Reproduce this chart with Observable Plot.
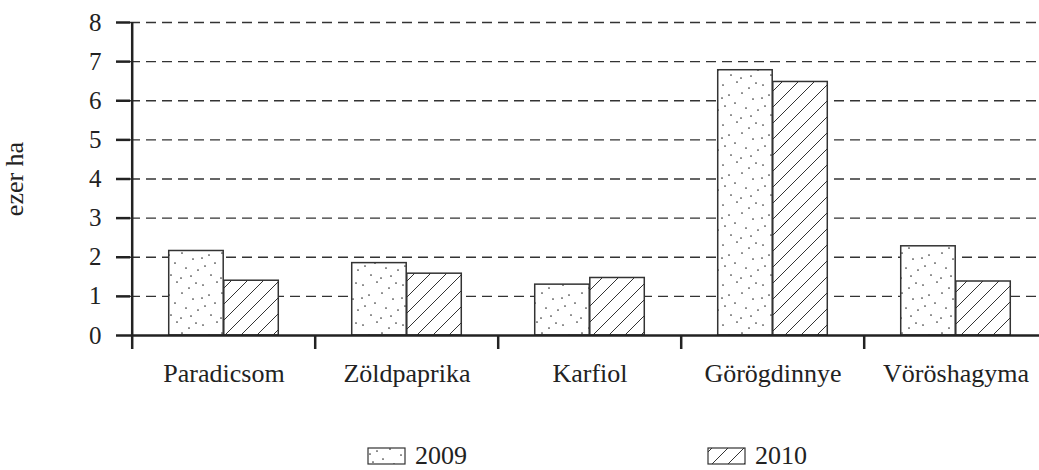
<!DOCTYPE html>
<html>
<head>
<meta charset="utf-8">
<script src="https://cdn.jsdelivr.net/npm/d3@7"></script>
<script src="https://cdn.jsdelivr.net/npm/@observablehq/plot@0.6"></script>
<style>
  html, body { margin: 0; padding: 0; background: #fff; }
  #chart { width: 1039px; }
  svg text { font-family: "Liberation Serif", "Times New Roman", serif; }
</style>
</head>
<body>
<svg width="0" height="0" style="position:absolute">
  <defs>
    <pattern id="dots" patternUnits="userSpaceOnUse" width="40" height="40">
      <rect width="40" height="40" fill="#fff"/>
      <g fill="#333">
        <circle cx="3" cy="5" r="0.85"/><circle cx="17" cy="2" r="0.85"/><circle cx="29" cy="8" r="0.85"/>
        <circle cx="36" cy="3" r="0.85"/><circle cx="9" cy="15" r="0.85"/><circle cx="22" cy="13" r="0.85"/>
        <circle cx="33" cy="19" r="0.85"/><circle cx="5" cy="26" r="0.85"/><circle cx="15" cy="23" r="0.85"/>
        <circle cx="26" cy="28" r="0.85"/><circle cx="38" cy="30" r="0.85"/><circle cx="11" cy="35" r="0.85"/>
        <circle cx="21" cy="38" r="0.85"/><circle cx="31" cy="36" r="0.85"/><circle cx="2" cy="18" r="0.85"/>
      </g>
    </pattern>
    <pattern id="hatch" patternUnits="userSpaceOnUse" width="16" height="16">
      <rect width="16" height="16" fill="#fff"/>
      <path d="M0,16 L16,0 M-4,4 L4,-4 M12,20 L20,12" stroke="#333" stroke-width="1"/>
    </pattern>
  </defs>
</svg>
<div id="chart"></div>
<script>
const categories = ["Paradicsom", "Zöldpaprika", "Karfiol", "Görögdinnye", "Vöröshagyma"];
const years = ["2009", "2010"];
const values2009 = [2.16, 1.85, 1.30, 6.78, 2.28];
const values2010 = [1.40, 1.58, 1.47, 6.48, 1.38];
const yTicks = [0, 1, 2, 3, 4, 5, 6, 7, 8];
const yLabel = "ezer ha";

const data2009 = categories.map((c, i) => ({cat: c, year: years[0], value: values2009[i]}));
const data2010 = categories.map((c, i) => ({cat: c, year: years[1], value: values2010[i]}));

const W = 1039, H = 436;
const xRange = [130, 1048];
const step = (xRange[1] - xRange[0]) / categories.length;
const ink = "#222";

const plot = Plot.plot({
  width: W,
  height: H,
  marginLeft: 130,
  marginRight: 0,
  marginTop: 22,
  marginBottom: H - 335,
  style: {background: "#fff", color: ink, fontFamily: "Liberation Serif, Times New Roman, serif", fontSize: "25px"},
  x: {domain: categories, range: xRange, padding: 0},
  y: {domain: [0, 8], ticks: yTicks},
  marks: [
    Plot.gridY(yTicks.filter(d => d > 0), {stroke: "#333", strokeOpacity: 1, strokeWidth: 1.4, strokeDasharray: "10,6"}),
    Plot.barY(data2009, {x: "cat", y: "value", fill: "url(#dots)", stroke: "#333", strokeWidth: 1.5,
      insetLeft: step * 0.2, insetRight: step * 0.5}),
    Plot.barY(data2010, {x: "cat", y: "value", fill: "url(#hatch)", stroke: "#333", strokeWidth: 1.5,
      insetLeft: step * 0.5, insetRight: step * 0.2}),
    Plot.ruleY([0], {stroke: ink, strokeWidth: 2.5}),
    Plot.ruleX([categories[0]], {x: d => d, y1: 8, y2: 0, dx: -step / 2, insetBottom: -14, stroke: ink, strokeWidth: 2.5}),
    Plot.ruleX(categories.slice(1), {x: d => d, y1: 0, y2: 0, dx: -step / 2, insetBottom: -14, stroke: ink, strokeWidth: 2.5}),
    Plot.axisY(yTicks, {tickSize: 14, tickPadding: 15, fontSize: 25, strokeWidth: 2.5, label: null, fill: ink}),
    Plot.axisX({tickSize: 0, tickPadding: 28, fontSize: 26, label: null, fill: ink}),
    Plot.text([yLabel], {frameAnchor: "left", textAnchor: "middle", lineAnchor: "middle", rotate: -90, dx: -116, fontSize: 26, fill: ink})
  ]
});
document.getElementById("chart").appendChild(plot);

// legend below the chart
const legend = d3.select("#chart").append("svg")
  .attr("width", W).attr("height", 34).style("display", "block");
const items = [
  {label: years[0], fill: "url(#dots)", x: 368},
  {label: years[1], fill: "url(#hatch)", x: 708}
];
const g = legend.selectAll("g").data(items).join("g").attr("transform", d => `translate(${d.x},0)`);
g.append("rect").attr("x", 0).attr("y", 12).attr("width", 37).attr("height", 16)
  .attr("fill", d => d.fill).attr("stroke", "#333").attr("stroke-width", 1.2);
g.append("text").attr("x", 47).attr("y", 28).attr("font-size", 26).attr("fill", ink).text(d => d.label);
</script>
</body>
</html>
